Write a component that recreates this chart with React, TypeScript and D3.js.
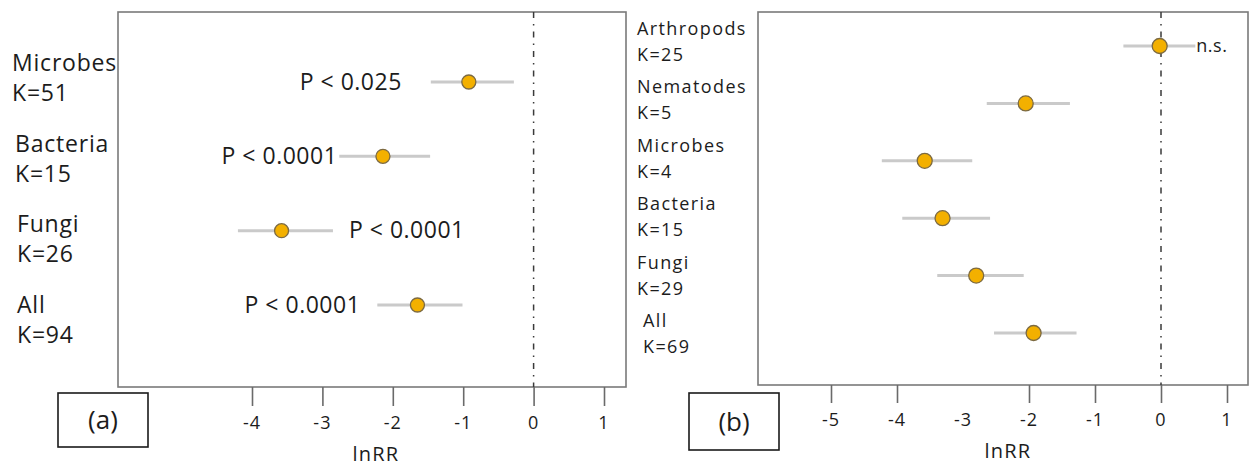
import { useEffect, useRef } from "react";
import * as d3 from "d3";

// panel (a)
const aCategories = ["Microbes", "Bacteria", "Fungi", "All"];
const aK = ["K=51", "K=15", "K=26", "K=94"];
const aMean = [-0.92, -2.14, -3.58, -1.65];
const aLow = [-1.46, -2.76, -4.2, -2.22];
const aHigh = [-0.28, -1.47, -2.85, -1.01];
const aP = ["P < 0.025", "P < 0.0001", "P < 0.0001", "P < 0.0001"];
const aPSide = ["left", "left", "right", "left"];
const aTicks = [-4, -3, -2, -1, 0, 1];

// panel (b)
const bCategories = ["Arthropods", "Nematodes", "Microbes", "Bacteria", "Fungi", "All"];
const bK = ["K=25", "K=5", "K=4", "K=15", "K=29", "K=69"];
const bMean = [-0.02, -2.05, -3.58, -3.31, -2.8, -1.93];
const bLow = [-0.57, -2.64, -4.23, -3.92, -3.39, -2.53];
const bHigh = [0.52, -1.38, -2.86, -2.59, -2.08, -1.28];
const bP = ["n.s.", "", "", "", "", ""];
const bPSide = ["right", "right", "right", "right", "right", "right"];
const bTicks = [-5, -4, -3, -2, -1, 0, 1];
const bTickMarks = [-5, -4, -2, -1, 0, 1];

const W = 1253;
const H = 468;
const FONT = "'Open Sans', sans-serif";
const TEXT = "#1c1c1c";

type Panel = {
  tag: string;
  cats: string[];
  ks: string[];
  mean: number[];
  low: number[];
  high: number[];
  p: string[];
  pSide: string[];
  pGap: number[];
  pSize: number;
  ticks: number[];
  tickMarks: number[];
  domain: [number, number];
  range: [number, number];
  frame: { x: number; y: number; w: number; h: number };
  rowY: [number, number];
  labelY: [number, number];
  labelX: number[];
  labelSize: number;
  labelSpacing: number;
  kGap: number;
  r: number;
  tickLen: number;
  tickLabelY: number;
  titleX: number;
  titleY: number;
  box: { x: number; y: number; w: number; h: number };
};

const panels: Panel[] = [
  {
    tag: "(a)",
    cats: aCategories,
    ks: aK,
    mean: aMean,
    low: aLow,
    high: aHigh,
    p: aP,
    pSide: aPSide,
    pGap: [29, 2, 16, 17],
    pSize: 23,
    ticks: aTicks,
    tickMarks: aTicks,
    domain: [-4, 1],
    range: [252, 604],
    frame: { x: 118, y: 12, w: 508, h: 375 },
    rowY: [82, 305],
    labelY: [71, 313],
    labelX: [12, 15, 17, 17],
    labelSize: 23,
    labelSpacing: 0.8,
    kGap: 30,
    r: 7,
    tickLen: 19,
    tickLabelY: 429,
    titleX: 376,
    titleY: 461,
    box: { x: 58, y: 393, w: 90, h: 54 },
  },
  {
    tag: "(b)",
    cats: bCategories,
    ks: bK,
    mean: bMean,
    low: bLow,
    high: bHigh,
    p: bP,
    pSide: bPSide,
    pGap: [1, 0, 0, 0, 0, 0],
    pSize: 18,
    ticks: bTicks,
    tickMarks: bTickMarks,
    domain: [-5, 1],
    range: [831, 1227],
    frame: { x: 758, y: 12, w: 490, h: 373 },
    rowY: [46, 333],
    labelY: [35, 327],
    labelX: [637, 637, 637, 637, 637, 643],
    labelSize: 18,
    labelSpacing: 1.4,
    kGap: 26,
    r: 7.5,
    tickLen: 18,
    tickLabelY: 426,
    titleX: 1008,
    titleY: 458,
    box: { x: 689, y: 393, w: 90, h: 57 },
  },
];

const drawPanel = (svg: d3.Selection<SVGSVGElement, unknown, null, undefined>, p: Panel) => {
  const n = p.cats.length;
  const idx = d3.range(n);
  const x = d3.scaleLinear().domain(p.domain).range(p.range);
  const y = d3.scalePoint<number>().domain(idx).range(p.rowY);
  const ly = d3.scalePoint<number>().domain(idx).range(p.labelY);
  const f = p.frame;
  const bottom = f.y + f.h;

  const g = svg.append("g").attr("font-family", FONT).attr("fill", TEXT);

  // frame
  g.append("rect")
    .attr("x", f.x)
    .attr("y", f.y)
    .attr("width", f.w)
    .attr("height", f.h)
    .attr("fill", "none")
    .attr("stroke", "#7a7a7a")
    .attr("stroke-width", 1.6);

  // zero line
  g.append("line")
    .attr("x1", x(0))
    .attr("x2", x(0))
    .attr("y1", f.y)
    .attr("y2", bottom)
    .attr("stroke", "#3a3a3a")
    .attr("stroke-width", 1.5)
    .attr("stroke-dasharray", "6,6,1.5,6");

  // tick marks
  const axis = d3
    .axisBottom(x)
    .tickValues(p.tickMarks)
    .tickSize(p.tickLen)
    .tickFormat(() => "");
  const ax = g.append("g").attr("transform", `translate(0,${bottom})`).call(axis);
  ax.select(".domain").remove();
  ax.selectAll(".tick line").attr("stroke", "#6a6a6a").attr("stroke-width", 1.6);

  // tick labels
  g.selectAll(null)
    .data(p.ticks)
    .join("text")
    .attr("x", (d) => x(d))
    .attr("y", p.tickLabelY)
    .attr("text-anchor", "middle")
    .attr("font-size", 18)
    .attr("letter-spacing", 1)
    .text((d) => String(d));

  g.append("text")
    .attr("x", p.titleX)
    .attr("y", p.titleY)
    .attr("text-anchor", "middle")
    .attr("font-size", 20)
    .attr("letter-spacing", 1.2)
    .text("lnRR");

  // confidence intervals
  g.selectAll(null)
    .data(idx)
    .join("line")
    .attr("x1", (i) => x(p.low[i]))
    .attr("x2", (i) => x(p.high[i]))
    .attr("y1", (i) => y(i)!)
    .attr("y2", (i) => y(i)!)
    .attr("stroke", "#cacaca")
    .attr("stroke-width", 3);

  // means
  g.selectAll(null)
    .data(idx)
    .join("circle")
    .attr("cx", (i) => x(p.mean[i]))
    .attr("cy", (i) => y(i)!)
    .attr("r", p.r)
    .attr("fill", "#f3b000")
    .attr("stroke", "#7c6a42")
    .attr("stroke-width", 1.3);

  // significance labels
  g.selectAll(null)
    .data(idx.filter((i) => p.p[i] !== ""))
    .join("text")
    .attr("x", (i) =>
      p.pSide[i] === "left" ? x(p.low[i]) - p.pGap[i] : x(p.high[i]) + p.pGap[i]
    )
    .attr("y", (i) => y(i)! + p.pSize * 0.34)
    .attr("text-anchor", (i) => (p.pSide[i] === "left" ? "end" : "start"))
    .attr("font-size", p.pSize)
    .attr("letter-spacing", 0.5)
    .text((i) => p.p[i]);

  // row labels
  g.selectAll(null)
    .data(idx)
    .join("text")
    .attr("x", (i) => p.labelX[i])
    .attr("y", (i) => ly(i)!)
    .attr("font-size", p.labelSize)
    .attr("letter-spacing", p.labelSpacing)
    .text((i) => p.cats[i]);

  g.selectAll(null)
    .data(idx)
    .join("text")
    .attr("x", (i) => p.labelX[i])
    .attr("y", (i) => ly(i)! + p.kGap)
    .attr("font-size", p.labelSize)
    .attr("letter-spacing", p.labelSpacing)
    .text((i) => p.ks[i]);

  // panel tag box
  g.append("rect")
    .attr("x", p.box.x)
    .attr("y", p.box.y)
    .attr("width", p.box.w)
    .attr("height", p.box.h)
    .attr("fill", "none")
    .attr("stroke", "#1a1a1a")
    .attr("stroke-width", 1.6);

  g.append("text")
    .attr("x", p.box.x + p.box.w / 2)
    .attr("y", p.box.y + p.box.h / 2 + 9)
    .attr("text-anchor", "middle")
    .attr("font-size", 26)
    .text(p.tag);
};

const App = () => {
  const svgRef = useRef<SVGSVGElement>(null);

  useEffect(() => {
    const svg = d3.select(svgRef.current!);
    svg.selectAll("*").remove();
    svg.append("rect").attr("width", W).attr("height", H).attr("fill", "#fff");
    panels.forEach((p) => drawPanel(svg, p));
  }, []);

  return (
    <div style={{ position: "absolute", left: 0, top: 0 }}>
      <svg ref={svgRef} width={W} height={H} />
    </div>
  );
};

export default App;
